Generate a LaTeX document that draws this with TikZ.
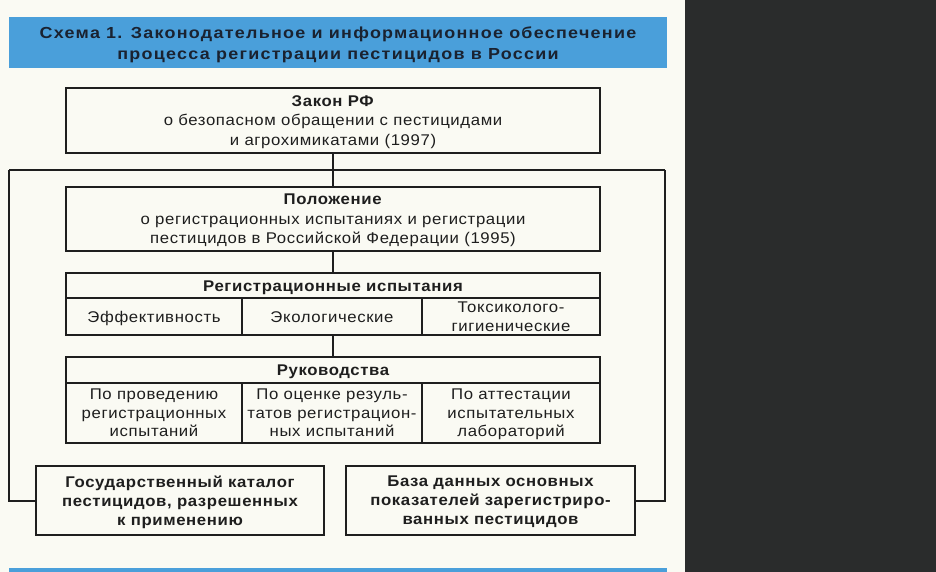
\documentclass[tikz,border=0pt]{standalone}
\usepackage{fontspec}
\setmainfont{Liberation Sans}[FakeStretch=1.08, LetterSpace=4]
\newfontfamily\headfont{Liberation Sans}[FakeStretch=1.12, LetterSpace=8]
\usetikzlibrary{positioning}
\definecolor{paper}{HTML}{FAFAF3}
\definecolor{frame}{HTML}{2A2C2C}
\definecolor{titlebar}{HTML}{4A9FDA}
\definecolor{ink}{HTML}{1E1E1E}
\definecolor{navy}{HTML}{1A2230}
\tikzset{
  blk/.style  ={draw=ink, line width=2pt, rectangle, align=center, fill=paper, text=ink, inner sep=0pt, outer sep=0pt, text depth=-3pt, font=\fontsize{15.5}{19.5}\selectfont},
  hdr/.style  ={blk, text height=11pt, font=\fontsize{15.5}{19.5}\selectfont\bfseries},
  cell/.style ={blk, minimum height=37pt, font=\fontsize{15.5}{18.5}\selectfont},
  guide/.style={blk, minimum height=60pt, font=\fontsize{15.5}{18.5}\selectfont},
  low/.style  ={blk, minimum height=69pt, font=\fontsize{15.5}{19}\selectfont\bfseries},
  link/.style ={draw=ink, line width=2pt},
}

\begin{document}
\begin{tikzpicture}[x=1pt, y=-1pt]
  \useasboundingbox (0,0) rectangle (936,572);
  \fill[paper] (0,0) rectangle (685,572);
  \fill[frame] (685,0) rectangle (936,572);

  \fill[titlebar] (9,17) rectangle (667,68);
  \node[text=navy, inner sep=0pt, align=center,
        font=\headfont\fontsize{16}{21}\selectfont\bfseries] (title) at (338,44.5)
    {Схема 1. Законодательное и информационное обеспечение\\процесса регистрации пестицидов в России};
  \fill[titlebar] (9,568) rectangle (667,572);

  \node[blk, minimum width=534pt, minimum height=65pt] (zakon) at (333,120.5)
    {\textbf{Закон РФ}\\о безопасном обращении с пестицидами\\и агрохимикатами (1997)};
  \node[blk, minimum width=534pt, minimum height=64pt, below=34pt of zakon] (polozh)
    {\textbf{Положение}\\о регистрационных испытаниях и регистрации\\пестицидов в Российской Федерации (1995)};

  \node[hdr, minimum width=534pt, minimum height=25pt, below=22pt of polozh] (regh) {Регистрационные испытания};
  \node[cell, text height=11pt, minimum width=176pt, anchor=north west] (rc1) at (regh.south west) {Эффективность};
  \node[cell, text height=11pt, minimum width=180pt, right=0pt of rc1] (rc2) {Экологические};
  \node[cell, minimum width=178pt, right=0pt of rc2] (rc3) {Токсиколого-\\гигиенические};

  \node[hdr, minimum width=534pt, minimum height=26pt, below=59pt of regh] (rukh) {Руководства};
  \node[guide, minimum width=176pt, anchor=north west] (gd1) at (rukh.south west)
    {По проведению\\регистрационных\\испытаний};
  \node[guide, minimum width=180pt, right=0pt of gd1] (gd2) {По оценке резуль-\\татов регистрацион-\\ных испытаний};
  \node[guide, minimum width=178pt, right=0pt of gd2] (gd3) {По аттестации\\испытательных\\лабораторий};

  \node[low, minimum width=288pt] (katalog) at (180,500.5)
    {Государственный каталог\\пестицидов, разрешенных\\к применению};
  \node[low, minimum width=289pt] (baza) at (490.5,500.5)
    {База данных основных\\показателей зарегистриро-\\ванных пестицидов};

  \coordinate (busL) at (9,170);
  \coordinate (busR) at (665,170);
  \draw[link] (zakon) -- (polozh);
  \draw[link] (busL) -- (busR);
  \draw[link] (busL) |- (katalog);
  \draw[link] (busR) |- (baza);
  \draw[link] (polozh) -- (regh);
  \draw[link] (rukh.north |- rc2.south) -- (rukh);
\end{tikzpicture}
\end{document}
